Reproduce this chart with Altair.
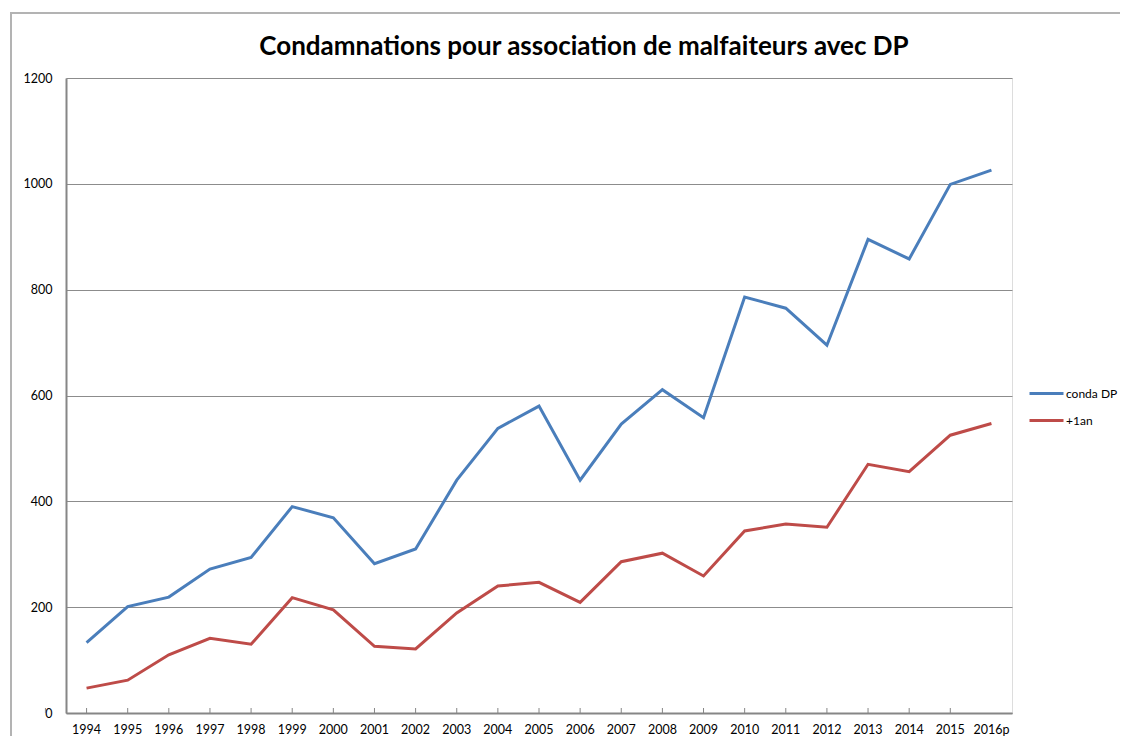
import altair as alt
import pandas as pd

years = ["1994", "1995", "1996", "1997", "1998", "1999", "2000", "2001", "2002",
         "2003", "2004", "2005", "2006", "2007", "2008", "2009", "2010", "2011",
         "2012", "2013", "2014", "2015", "2016p"]
conda_dp = [133, 201, 219, 272, 294, 390, 369, 282, 310, 440, 538, 580, 440,
            546, 611, 558, 786, 765, 695, 895, 858, 999, 1026]
plus_1an = [47, 62, 110, 141, 130, 218, 195, 126, 121, 189, 240, 247, 209,
            286, 302, 259, 344, 357, 351, 470, 456, 525, 547]
series_names = ["conda DP", "+1an"]
series_colors = ["#4A7EBB", "#BE4B48"]
y_ticks = [0, 200, 400, 600, 800, 1000, 1200]

rows = []
for i, y in enumerate(years):
    rows.append({"year": y, "serie": series_names[0], "value": conda_dp[i], "ord": 0})
    rows.append({"year": y, "serie": series_names[1], "value": plus_1an[i], "ord": 1})
df = pd.DataFrame(rows)
ticks_df = pd.DataFrame({"year": years})

W, H = 946, 635
FONT = "Lato"
HALF_BAND = W / len(years) / 2

xscale = alt.Scale(domain=years, paddingInner=0, paddingOuter=0)
x_axis = alt.Axis(title=None, labelAngle=0, ticks=False, domain=True,
                  domainColor="#868686", domainWidth=2,
                  labelFont=FONT, labelFontSize=12.5, labelColor="#000000",
                  labelPadding=10, grid=False)

lines = alt.Chart(df).mark_line(strokeWidth=3).encode(
    x=alt.X("year:N", scale=xscale, sort=years, axis=x_axis),
    y=alt.Y("value:Q", scale=alt.Scale(domain=[0, 1200], nice=False),
            axis=alt.Axis(title=None, values=y_ticks, ticks=False, format="d",
                          domainColor="#868686", domainWidth=2,
                          gridColor="#8C8C8C", gridWidth=1,
                          labelFont=FONT, labelFontSize=12.5, labelColor="#000000",
                          labelPadding=14)),
    color=alt.Color("serie:N", sort=series_names,
                    scale=alt.Scale(domain=series_names, range=series_colors),
                    legend=alt.Legend(title=None, orient="none", legendX=962, legendY=297,
                                      symbolType="stroke", symbolSize=1156,
                                      symbolStrokeWidth=3, labelFont=FONT,
                                      labelFontSize=12, labelColor="#000000",
                                      labelOffset=1, rowPadding=2)),
    order="ord:Q",
)

tick_marks = alt.Chart(ticks_df).mark_rule(color="#868686", strokeWidth=1).encode(
    x=alt.X("year:N", scale=xscale, sort=years, axis=x_axis),
    xOffset=alt.value(-HALF_BAND),
    y=alt.value(H - 5),
    y2=alt.value(H),
)

frame = alt.Chart(ticks_df).mark_rect(fillOpacity=0, stroke="#B3B3B3", strokeWidth=2).encode(
    x=alt.value(-55), x2=alt.value(1200), y=alt.value(-65), y2=alt.value(900)
)

chart = alt.layer(frame, tick_marks, lines).properties(
    width=W, height=H,
    title=alt.TitleParams("Condamnations pour association de malfaiteurs avec DP",
                          font=FONT, fontSize=26, fontWeight="bold", color="#000000",
                          anchor="middle", dx=45, dy=72, offset=24),
    autosize=alt.AutoSizeParams(type="none"),
    padding={"left": 58, "top": 70, "right": 108, "bottom": 23},
).configure_view(stroke=None).configure(background="#FFFFFF")

chart.save("out.html", embed_options={"renderer": "svg", "actions": False})
